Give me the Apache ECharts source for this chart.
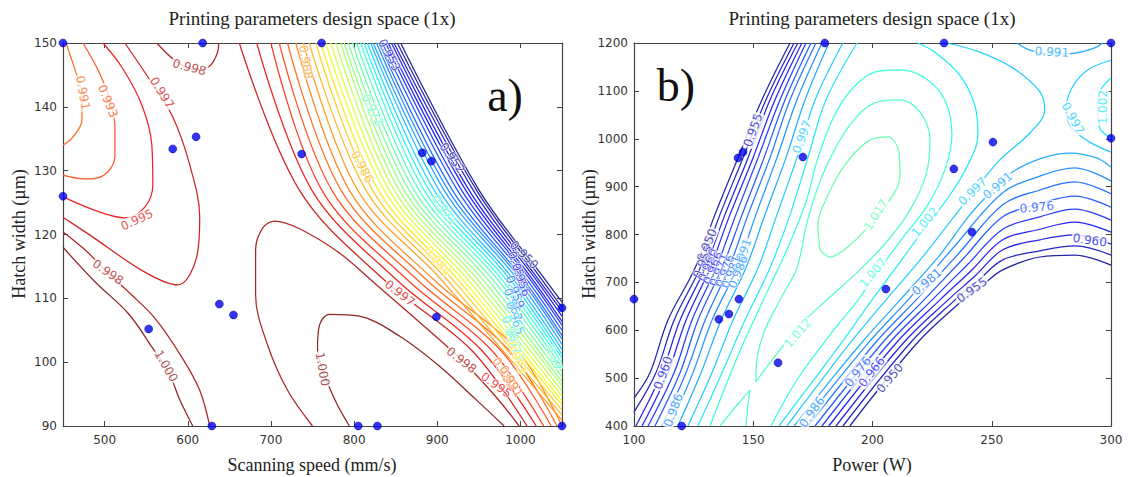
<!DOCTYPE html>
<html>
<head>
<meta charset="utf-8">
<script src="https://cdn.jsdelivr.net/npm/echarts@6/dist/echarts.min.js"></script>
<style>
html, body { margin: 0; padding: 0; background: #fff; }
#chart { width: 1128px; height: 477px; }
</style>
</head>
<body>
<div id="chart"></div>
<script>
// ---------- panel a : scanning speed (mm/s) x hatch width (um) ----------
var xTicksA = [500, 600, 700, 800, 900, 1000];

// separate contour pieces, [x, y] in data units
var aCorner991 = [[453.6,150],[464.4,145.8],[472.8,141.9],[472.8,137.9],[460.8,135.1],[450,134]];
var aCorner993 = [[474,150],[492,145.8],[506.4,141.1],[512.4,136.8],[512.4,132.1],[499.2,129.3],[476.4,128.7],[450,129.3]];
var aCorner995 = [[498,150],[520.8,146.2],[544.8,140.3],[556.8,134],[558,127.8],[548.4,124.3],[524.4,122.6],[494.4,123.5],[450,125.9]];
var aLoop997 = [[524.4,150],[554.4,144.2],[582,138.4],[602.4,130.9],[614.4,122.7],[610.8,116.5],[588,112.1],[548.4,114.1],[482.4,119.9],[450,122.7]];
var aTop998 = [[562.8,150],[584.4,147.3],[608.4,145.8],[626.4,146.4],[636,148.6],[637.2,150]];
var aLeft998 = [[450,120.4],[476.4,117.6],[506.4,113.7],[530.4,110.8],[560.4,106.9],[592.8,100.8],[614.4,95.6],[626.4,90]];
var aLeft1000 = [[450,118],[488.4,112.6],[528,107.7],[556.8,102.4],[578.4,98],[590.4,94.1],[606,90]];
var aArch998 = [[750,90],[720,95.6],[696,102.7],[681.6,110.5],[681.6,117.6],[690,121],[704.4,122.1],[734.4,120.9],[782.4,117.1],[824.4,112.4],[878.4,106.3],[926.4,100.7],[968.4,94.9],[998.4,90]];
var aArch1000 = [[794.4,90],[780,93.3],[766.8,97.2],[756,102.2],[758.4,105.8],[770.4,107.5],[806.4,107.2],[854.4,104.1],[902.4,99.4],[944.4,94.4],[980.4,90]];

var aPieces = [
  [0.991, aCorner991], [0.9925, aCorner993], [0.9955, aCorner995], [0.997, aLoop997],
  [0.9985, aTop998], [0.9985, aLeft998], [1.0, aLeft1000], [0.9985, aArch998], [1.0, aArch1000]
];

// the dense diagonal band, from 0.997 (left) down to 0.9505 (right)
var bandLevels = [0.997,0.9955,0.994,0.9925,0.991,0.9895,0.988,0.9865,0.985,0.9835,0.982,0.9805,0.979,0.9775,0.976,0.9745,
                  0.973,0.9715,0.970,0.9685,0.967,0.9655,0.964,0.9625,0.961,0.9595,0.958,0.9565,0.955,0.9535,0.952,0.9505];
var bandStationY = [150, 127, 112.9, 101.9];
var bandTopX = [662,683,700,710,720,730,739,746,754,760,766,772,778,784,788,793,798,803,808,812,816,820,823,827,830,834,838,841,845,848,852,856];
var bandMidX = [734,749,761,773,784,794,804,814,822,829,836,842,848,854,860,866,872,878,884,890,896,902,908,913,918,924,929,934,938,943,947,950];
var bandLowX = [836,851,864,876,887,896,905,912,919,925,931,937,943,949,955,961,967,973,978,983,988,992,997,1001,1004,1008,1012,1015,1019,1022,1026,1030];
// the six reddest lines run on to the bottom edge
var bandRedX = [941,953,965,976,986,996];
var bandBottomX = [1008,1019,1028,1037,1044,1050];
// the others end on the right edge
var bandEdgeY = [90.9,91.7,92.5,93.3,93.9,94.7,95.5,96.3,96.9,97.7,98.5,99.1,99.9,100.6,101.2,102,102.8,103.6,104.2,105,105.8,106.4,107.2,108,108.6,109.4];

// contour labels: x, y, text, rotation, level
var aLabels = [
  [474,142.2,'0.991',-80,0.991],[504,140.9,'0.993',-68,0.9925],[539,122.3,'0.995',25,0.9955],
  [569,142.2,'0.997',-58,0.997],[602,146.2,'0.998',-15,0.9985],[504,114.1,'0.998',-35,0.9985],
  [574,99.4,'1.000',-60,1.0],[762,98.9,'1.000',-80,1.0],[855,110.8,'0.997',-38,0.997],[929,100.3,'0.998',-38,0.9985]
];
var aBandLabels = [
  [742,147,'0.988',-80,0.988],[810,130.6,'0.986',-62,0.9865],[822,139.5,'0.972',-62,0.9715],
  [900.6,115.8,'0.984',-50,0.9835],[908.4,123.8,'0.971',-55,0.9715],[842.4,148.1,'0.953',-62,0.9535],
  [918,132,'0.952',-55,0.952],[1004.4,116.8,'0.950',-45,0.9505],
  [996,114.8,'0.953',-70,0.9535],[1000.8,112.9,'0.956',-70,0.9565],[993.6,111,'0.959',-70,0.9595],
  [991.2,109,'0.962',-70,0.9625],[993.6,106.9,'0.965',-70,0.9655],[988.8,104.7,'0.968',-70,0.9685],
  [992.4,102.7,'0.973',-70,0.973],[996,100.7,'0.983',-70,0.9835],[980.4,98.3,'0.989',-60,0.9895],
  [988.8,97,'0.991',-60,0.991],[970.8,96.4,'0.995',-35,0.9955],[1040.4,100.7,'0.97',-70,0.9715]
];
var aDots = [[450,150],[618,150],[761,150],[450,126],[582,133.4],[610,135.3],[737,132.6],[882,132.8],[893,131.5],
             [553,105.2],[638,109.1],[655,107.4],[629,90],[899,107.1],[805,90],[828,90],[1050,108.5],[1050,90]];

// ---------- panel b : power (W) x hatch width (um) ----------
var bLeftLevels = [0.950,0.955,0.960,0.966,0.971,0.976,0.981,0.986,0.991,0.997,1.002];
var bLeftStart = [[100,458],[100,429],[100.8,400],[103.4,400],[105.9,400],[108.8,400],[111.7,400],[115.1,400],[118.4,400],[122.6,400],[126.8,400]];
var bLeftStationY = [511, 621, 730, 841, 960, 1081, 1200];
var bLeftX = [
  [106.7,109.2,111.7,114.2,116.8,119.3,121.8,124.7,128.1,132.7,136.9],
  [114.2,116.8,119.3,121.8,124.3,126.8,129.8,132.7,136.5,141.5,146.5],
  [125.6,127.7,129.8,131.9,134.4,136.9,139.8,143.2,146.9,152,157],
  [133.9,136,138.1,140.2,142.7,145.3,147.8,151.1,154.9,159.9,165.4],
  [143.6,145.7,147.8,149.9,152,154.5,157,159.9,163.7,168.3,172.9],
  [153.6,155.3,157,159.1,161.2,163.3,165.4,168.3,171.7,175.9,180.5],
  [165.4,167.1,168.7,170.4,172.1,174.2,176.3,178.8,181.7,187.6,193.5]
];

var bRight997 = [[164.1,400],[177.1,486],[190.9,575],[205.6,663],[220.7,751],[233.7,834],[244.2,901],[253.4,956],[266,1012],[272.2,1060],[270.2,1098],[258.8,1148],[245,1181],[231.2,1200]];
var bRight1002 = [[160.8,400],[173.8,486],[187.2,575],[199.7,663],[210.6,736],[222,814],[232.4,882],[240,945],[244.2,1008],[242.9,1070],[236.6,1133],[226.1,1181],[219,1200]];
var bLoop1007 = [[131.9,400],[139.4,496],[146.5,580],[156.2,684],[164.1,768],[172.1,868],[177.1,960],[184.2,1050],[191.8,1106],[201,1139],[211.5,1144],[222,1127],[230.3,1081],[233.3,1008],[230.3,935],[223.2,862],[212.7,793],[201.8,720],[193.9,663],[182.1,590],[169.6,506],[163.3,454],[157.4,400]];
var bLoop1012 = [[151.1,492],[151.5,538],[154.9,600],[161.2,663],[168.3,730],[173,834],[180,935],[190.5,1029],[201,1075],[211.5,1081],[219.9,1056],[224.1,997],[222.4,924],[215.7,851],[206.5,788],[194.7,726],[182.1,669],[169.6,611],[161.2,559],[154.1,513],[151.1,492]];
var bFoot1012 = [[136,400],[143.6,446],[148.6,475],[147.8,444],[146.9,400]];
var bPeak1017 = [[178,768],[177.1,820],[181.3,882],[188.4,945],[198.1,995],[206.5,1004],[211.1,972],[211.5,922],[206.5,866],[198.9,820],[189.7,774],[182.1,753],[178,768]];
var bLow991 = [[167.1,400],[180.9,486],[195.6,575],[211.5,663],[228.2,757],[240.8,841],[250.5,893],[258.8,931],[271.4,960],[282.7,970],[294,960],[300,941]];
var bTop991 = [[260.5,1200],[266,1185],[274.3,1177],[284.8,1179],[293.2,1190],[296.6,1200]];
var bHump997 = [[300,1164],[290.3,1144],[283.6,1106],[281.1,1060],[283.6,1022],[291.1,993],[300,972]];
var bHump1002 = [[300,1127],[295.3,1098],[294.5,1060],[295.3,1022],[300,1002]];

var bPieces = [
  [0.997, bRight997], [1.002, bRight1002], [1.007, bLoop1007], [1.012, bLoop1012], [1.012, bFoot1012],
  [1.017, bPeak1017], [0.991, bLow991], [0.991, bTop991], [0.997, bHump997], [1.002, bHump1002]
];

// arches in the lower right, 0.986 (top) down to 0.950
var archLevels = [0.986,0.981,0.976,0.971,0.966,0.960,0.955,0.950];
var archBottomX = [170,172.9,175.9,178.8,181.7,184.7,187.6,190.5];
var archX575 = [198.5,201.4,204.4,207.3,210.2,213.2,216.1,219];
var archX663 = [214.8,218.2,221.5,224.9,228.2,231.6,234.5,237.9];
var archMid = [[234.5,776],[236.6,763],[238.3,751],[240,738],[241.7,726],[243.3,715],[244.6,705],[246.3,695]];
var archStationX = [254.6, 270.2, 284.8, 300];
var archY = [
  [887,862,837,811,789,768,747,726],
  [922,893,864,837,811,789,766,753],
  [939,910,880,853,826,799,776,757],
  [912,885,857,830,805,780,757,736]
];

var bLabels = [
  [130.6,778,'0.950',68,0.950],[145.3,757,'0.991',70,0.991],[149.9,1018,'0.955',70,0.955],
  [170.4,1004,'0.997',70,0.997],[112.2,511,'0.960',70,0.960],[116.5,433,'0.986',70,0.986],
  [201.4,841,'1.017',58,1.017],[168.7,594,'1.012',50,1.012],[200.2,720,'1.007',50,1.007],
  [222,826,'1.002',50,1.002],[242,890,'0.997',45,0.997],[252.5,902,'0.991',40,0.991],
  [268.9,857,'0.976',5,0.976],[291.1,788,'0.960',-8,0.960],[275.2,1181,'0.991',-3,0.991],
  [284,1043,'0.997',-62,0.997],[296.6,1066,'1.002',90,1.002],[222.8,701,'0.981',40,0.981],
  [241.7,684,'0.955',35,0.955],[207.3,500,'0.950',50,0.950],[193.9,513,'0.976',52,0.976],
  [199.7,513,'0.966',52,0.966],[174.6,429,'0.986',55,0.986]
];
var bBandLabels = [
  [128.9,743,'0.955',68,0.955],[131,736,'0.960',68,0.960],[133.1,730,'0.966',68,0.966],
  [135.6,726,'0.971',68,0.971],[138.1,724,'0.976',68,0.976],[140.7,722,'0.981',68,0.981],
  [143.6,722,'0.986',68,0.986]
];
var bDots = [[180,1200],[230,1200],[300,1200],[300,1001],[143.6,960],[145.7,972],[170.8,962],[250.5,993],[234.1,937],
             [241.7,805],[205.6,686],[160.4,532],[144,665],[139.8,634],[135.6,623],[120,400],[100,665]];

// matplotlib "jet", softened a little toward white like the anti-aliased original
function jet(t) {
  t = Math.max(0, Math.min(1, t));
  function seg(p) {
    for (var i = 1; i < p.length; i++) {
      if (t <= p[i][0]) return p[i-1][1] + (p[i][1] - p[i-1][1]) * (t - p[i-1][0]) / (p[i][0] - p[i-1][0]);
    }
    return p[p.length - 1][1];
  }
  var r = seg([[0,0],[0.35,0],[0.66,1],[0.89,1],[1,0.5]]);
  var g = seg([[0,0],[0.125,0],[0.375,1],[0.64,1],[0.91,0],[1,0]]);
  var b = seg([[0,0.5],[0.11,1],[0.34,1],[0.65,0],[1,0]]);
  var soft = function (c) { return Math.round((c * 0.86 + 0.14) * 255); };
  return 'rgb(' + soft(r) + ',' + soft(g) + ',' + soft(b) + ')';
}
function colA(lv) { return jet((lv - 0.9505) / 0.0495); }
function colB(lv) { return jet((lv - 0.947) / 0.156); }

var series = [];
function addLine(pts, color, ax) {
  series.push({
    type: 'line', xAxisIndex: ax, yAxisIndex: ax, data: pts, smooth: 0.35,
    symbol: 'none', silent: true, z: 2, animation: false,
    lineStyle: { color: color, width: 1.25 }
  });
}
function addLabels(list, col, ax, boxed) {
  series.push({
    type: 'scatter', xAxisIndex: ax, yAxisIndex: ax, symbolSize: 0.01, silent: true, z: 5, animation: false,
    itemStyle: { color: 'rgba(0,0,0,0)' },
    data: list.map(function (d) {
      return {
        value: [d[0], d[1]],
        label: {
          show: true, position: 'inside', formatter: d[2], rotate: d[3], color: col(d[4]),
          fontSize: 12, fontFamily: 'DejaVu Sans',
          backgroundColor: boxed ? '#fff' : 'transparent', padding: boxed ? [0, 1] : 0,
          textBorderColor: boxed ? 'transparent' : '#fff', textBorderWidth: boxed ? 0 : 1.5
        }
      };
    })
  });
}
function addDots(list, ax) {
  series.push({
    type: 'scatter', xAxisIndex: ax, yAxisIndex: ax, data: list, symbolSize: 8, z: 6, clip: true,
    silent: true, animation: false,
    itemStyle: { color: '#0000f0', borderColor: '#00008c', borderWidth: 0.6 }
  });
}

// panel a
aPieces.forEach(function (p) { addLine(p[1], colA(p[0]), 0); });
bandLevels.forEach(function (lv, i) {
  var pts = [[bandTopX[i], bandStationY[0]], [bandMidX[i], bandStationY[1]], [bandLowX[i], bandStationY[2]]];
  if (i < bandRedX.length) {
    pts.push([bandRedX[i], bandStationY[3]]);
    pts.push([bandBottomX[i], 90]);
  } else {
    pts.push([1050, bandEdgeY[i - bandRedX.length]]);
  }
  addLine(pts, colA(lv), 0);
});
addLabels(aLabels, colA, 0, true);
addLabels(aBandLabels, colA, 0, false);
addDots(aDots, 0);

// panel b
bLeftLevels.forEach(function (lv, i) {
  var pts = [bLeftStart[i]];
  bLeftStationY.forEach(function (y, j) { pts.push([bLeftX[j][i], y]); });
  addLine(pts, colB(lv), 2);
});
bPieces.forEach(function (p) { addLine(p[1], colB(p[0]), 2); });
archLevels.forEach(function (lv, i) {
  var pts = [[archBottomX[i], 400], [archX575[i], 575], [archX663[i], 663], archMid[i]];
  archStationX.forEach(function (x, j) { pts.push([x, archY[j][i]]); });
  addLine(pts, colB(lv), 2);
});
addLabels(bLabels, colB, 2, true);
addLabels(bBandLabels, colB, 2, false);
addDots(bDots, 2);

var spine = { show: true, onZero: false, lineStyle: { color: '#444', width: 1.2 } };
var tickLab = { color: '#333', fontSize: 12, fontFamily: 'DejaVu Sans', formatter: function (v) { return String(v); } };
function ax(o) {
  var a = {
    type: 'value', axisLine: spine, splitLine: { show: false },
    axisTick: { show: true, inside: true, length: 5, lineStyle: { color: '#444' } },
    axisLabel: Object.assign({ show: true, margin: 8 }, tickLab)
  };
  for (var k in o) {
    if (k === 'axisTick' || k === 'axisLabel') a[k] = Object.assign({}, a[k], o[k]);
    else a[k] = o[k];
  }
  return a;
}

var serif = 'Liberation Serif';
var option = {
  animation: false,
  grid: [
    { left: 63, top: 43, width: 499, height: 383 },
    { left: 634, top: 43, width: 477, height: 383 }
  ],
  xAxis: [
    ax({ gridIndex: 0, min: 450, max: 1050, position: 'bottom',
         axisTick: { customValues: xTicksA }, axisLabel: { customValues: xTicksA } }),
    ax({ gridIndex: 0, min: 450, max: 1050, position: 'top',
         axisTick: { customValues: xTicksA }, axisLabel: { show: false } }),
    ax({ gridIndex: 1, min: 100, max: 300, interval: 50, position: 'bottom' }),
    ax({ gridIndex: 1, min: 100, max: 300, interval: 50, position: 'top', axisLabel: { show: false } })
  ],
  yAxis: [
    ax({ gridIndex: 0, min: 90, max: 150, interval: 10, position: 'left', axisLabel: { margin: 6 } }),
    ax({ gridIndex: 0, min: 90, max: 150, interval: 10, position: 'right', axisLabel: { show: false } }),
    ax({ gridIndex: 1, min: 400, max: 1200, interval: 100, position: 'left', axisLabel: { margin: 6 } }),
    ax({ gridIndex: 1, min: 400, max: 1200, interval: 100, position: 'right', axisLabel: { show: false } })
  ],
  graphic: [
    { type: 'text', x: 312, y: 18, style: { text: 'Printing parameters design space (1x)', font: '19px ' + serif, fill: '#222', align: 'center', verticalAlign: 'middle' } },
    { type: 'text', x: 872, y: 18, style: { text: 'Printing parameters design space (1x)', font: '19px ' + serif, fill: '#222', align: 'center', verticalAlign: 'middle' } },
    { type: 'text', x: 312, y: 465, style: { text: 'Scanning speed (mm/s)', font: '18px ' + serif, fill: '#222', align: 'center', verticalAlign: 'middle' } },
    { type: 'text', x: 872, y: 465, style: { text: 'Power (W)', font: '18px ' + serif, fill: '#222', align: 'center', verticalAlign: 'middle' } },
    { type: 'text', x: 19, y: 234, rotation: Math.PI / 2, style: { text: 'Hatch width (\u00b5m)', font: '18px ' + serif, fill: '#222', align: 'center', verticalAlign: 'middle' } },
    { type: 'text', x: 589, y: 234, rotation: Math.PI / 2, style: { text: 'Hatch width (\u00b5m)', font: '18px ' + serif, fill: '#222', align: 'center', verticalAlign: 'middle' } },
    { type: 'text', x: 505, y: 95, style: { text: 'a)', font: '46px ' + serif, fill: '#111', align: 'center', verticalAlign: 'middle' } },
    { type: 'text', x: 676, y: 85, style: { text: 'b)', font: '46px ' + serif, fill: '#111', align: 'center', verticalAlign: 'middle' } }
  ],
  series: series
};

var chart = echarts.init(document.getElementById('chart'), null, { renderer: 'svg' });
chart.setOption(option);
window.addEventListener('resize', function () { chart.resize(); });
</script>
</body>
</html>
